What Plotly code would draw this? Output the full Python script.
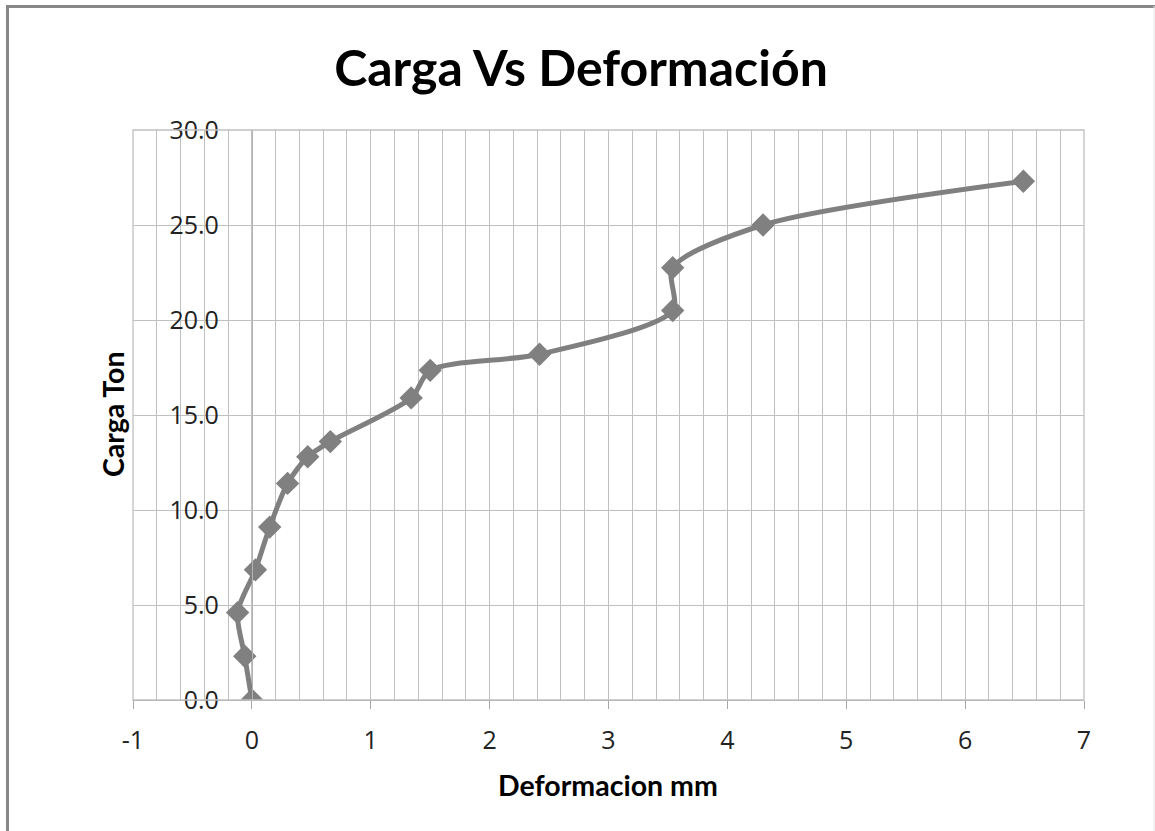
import plotly.graph_objects as go

# Data
deformacion_mm = [0.0, -0.06, -0.12, 0.03, 0.15, 0.30, 0.47, 0.66, 1.34, 1.50, 2.42, 3.54, 3.54, 4.30, 6.49]
carga_ton = [0.0, 2.3, 4.6, 6.85, 9.1, 11.4, 12.8, 13.6, 15.9, 17.35, 18.2, 20.5, 22.75, 25.0, 27.3]

x_ticks = [-1, 0, 1, 2, 3, 4, 5, 6, 7]
x_tick_labels = ["-1", "0", "1", "2", "3", "4", "5", "6", "7"]
y_ticks = [0, 5, 10, 15, 20, 25, 30]
y_tick_labels = ["0.0", "5.0", "10.0", "15.0", "20.0", "25.0", "30.0"]

GRAY = "#808080"
GRID = "#c0c0c0"
AXIS = "#a6a6a6"

fig = go.Figure()
fig.add_trace(go.Scatter(
    x=deformacion_mm, y=carga_ton,
    mode="lines+markers",
    line=dict(color=GRAY, width=5, shape="spline", smoothing=0.8),
    marker=dict(symbol="diamond", size=18, color=GRAY),
    showlegend=False,
))

L, R, T, B = 133, 71, 130, 131
W, H = 1155, 831
pw, ph = W - L - R, H - T - B

fig.update_layout(
    width=W, height=H,
    margin=dict(l=L, r=R, t=T, b=B),
    paper_bgcolor="white", plot_bgcolor="white",
    title=dict(text="<b>Carga Vs Deformación</b>", x=581 / W, xanchor="center",
               y=1 - 68 / H, yanchor="middle",
               font=dict(family="Lato", size=50, color="black")),
    xaxis=dict(
        range=[-1, 7], tickmode="array", tickvals=x_ticks, ticktext=x_tick_labels,
        showgrid=True, gridcolor=GRID, gridwidth=1.3,
        minor=dict(dtick=0.2, tick0=0, showgrid=True, gridcolor=GRID, gridwidth=1.3, ticks=""),
        showline=True, linecolor=AXIS, linewidth=1.3,
        ticks="outside", ticklen=8, tickcolor=AXIS, tickwidth=1.3,
        tickfont=dict(family="Open Sans", size=25, color="#222222"),
        zeroline=False, fixedrange=True,
        ticklabelstandoff=10,
    ),
    yaxis=dict(
        range=[0, 30], tickmode="array", tickvals=y_ticks, ticktext=y_tick_labels,
        anchor="free", position=(252 - L) / pw,
        showgrid=True, gridcolor=GRID, gridwidth=1.3,
        showline=True, linecolor="#b3b3b3", linewidth=1.3,
        ticks="", ticklabelstandoff=28,
        tickfont=dict(family="Open Sans", size=25, color="#222222"),
        zeroline=False, fixedrange=True,
    ),
    shapes=[
        dict(type="line", xref="paper", yref="paper",
             x0=(7.5 - L) / pw, x1=(7.5 - L) / pw, y0=-(B + 5) / ph, y1=1 + (T - 6) / ph,
             line=dict(color="#878787", width=3)),
        dict(type="line", xref="paper", yref="paper",
             x0=(6 - L) / pw, x1=(1156 - L) / pw, y0=1 + (T - 6.5) / ph, y1=1 + (T - 6.5) / ph,
             line=dict(color="#878787", width=3)),
        dict(type="line", xref="paper", yref="paper",
             x0=(1154 - L) / pw, x1=(1154 - L) / pw, y0=-(B + 5) / ph, y1=1 + (T - 6) / ph,
             line=dict(color="#e6e6e6", width=1)),
        dict(type="rect", xref="paper", yref="paper", x0=0, x1=1, y0=0, y1=1,
             line=dict(color=GRID, width=1.3)),
    ],
    annotations=[
        dict(text="<b>Deformacion mm</b>", xref="paper", yref="paper",
             x=(608 - L) / pw, y=-(785 - (H - B)) / ph, xanchor="center", yanchor="middle",
             showarrow=False, font=dict(family="Lato", size=28.5, color="black")),
        dict(text="<b>Carga Ton</b>", xref="paper", yref="paper",
             x=(113 - L) / pw, y=1 - (415 - T) / ph, xanchor="center", yanchor="middle",
             textangle=-90, showarrow=False, font=dict(family="Lato", size=28.5, color="black")),
    ],
)

fig.write_html("out.html", config={"displayModeBar": False},
               post_script="document.body.style.margin='0';")
